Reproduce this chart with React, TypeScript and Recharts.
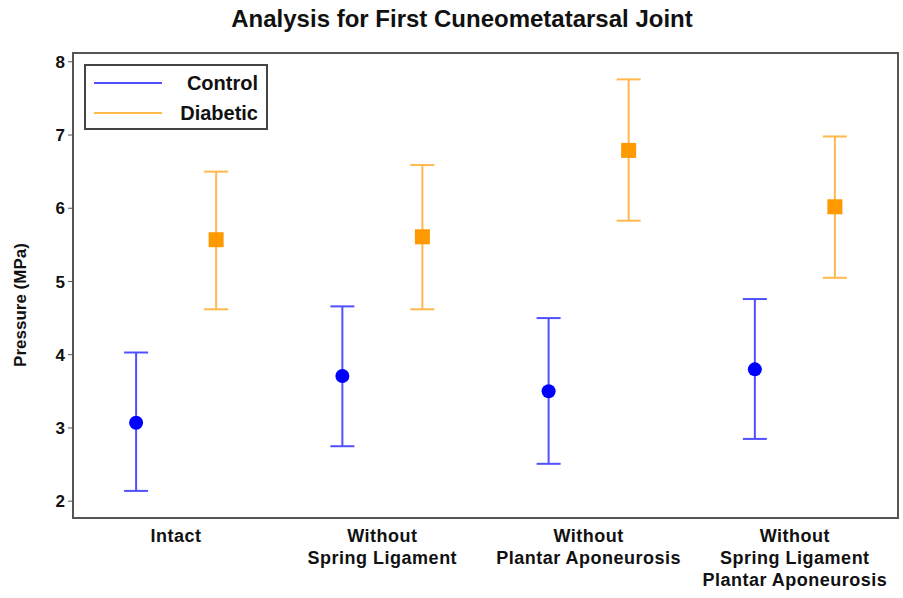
import React from "react"
import { ComposedChart, Scatter, XAxis, YAxis, ErrorBar, ReferenceArea, Legend } from "recharts"

const categories = [
  ["Intact"],
  ["Without", "Spring Ligament"],
  ["Without", "Plantar Aponeurosis"],
  ["Without", "Spring Ligament", "Plantar Aponeurosis"],
]
const controlMean = [3.07, 3.71, 3.5, 3.8]
const controlLow = [2.14, 2.75, 2.51, 2.85]
const controlHigh = [4.03, 4.66, 4.5, 4.76]
const diabeticMean = [5.57, 5.61, 6.79, 6.02]
const diabeticLow = [4.62, 4.62, 5.83, 5.05]
const diabeticHigh = [6.5, 6.59, 7.76, 6.98]
const yTicks = [2, 3, 4, 5, 6, 7, 8]

const FONT = "'Liberation Sans', Arial, sans-serif"
const BLUE = "#0000ff"
const BLUE_BAR = "#5050ff"
const ORANGE = "#ff9900"
const ORANGE_BAR = "#ffb84d"
const SHIFT = 0.194

const build = (mean: number[], low: number[], high: number[], shift: number) =>
  mean.map((m, i) => ({ x: i + shift, y: m, err: [m - low[i], high[i] - m] }))

const controlData = build(controlMean, controlLow, controlHigh, -SHIFT)
const diabeticData = build(diabeticMean, diabeticLow, diabeticHigh, SHIFT)

function CategoryTick({ x, y, payload }: any) {
  const lines = categories[payload.value] || []
  return (
    <text x={x} y={y} textAnchor="middle" fontFamily={FONT} fontWeight="bold" fontSize={18} letterSpacing={0.5} fill="#111">
      {lines.map((l, i) => (
        <tspan key={i} x={x} dy={i === 0 ? 16 : 22}>
          {l}
        </tspan>
      ))}
    </text>
  )
}

function LegendBox() {
  const items = [
    { name: "Control", color: BLUE_BAR },
    { name: "Diabetic", color: ORANGE_BAR },
  ]
  return (
    <div style={{ border: "2px solid #444", width: 184, height: 66, background: "#fff", boxSizing: "border-box", paddingTop: 4 }}>
      {items.map((it) => (
        <div key={it.name} style={{ display: "flex", alignItems: "center", height: 26, marginBottom: 4 }}>
          <div style={{ width: 68, height: 2, background: it.color, marginLeft: 8 }} />
          <div style={{ flex: 1, textAlign: "right", paddingRight: 8, fontFamily: FONT, fontWeight: "bold", fontSize: 20, color: "#111" }}>
            {it.name}
          </div>
        </div>
      ))}
    </div>
  )
}

export default function App() {
  return (
    <div style={{ position: "absolute", left: 0, top: 0, width: 903, height: 598, background: "#fff" }}>
      <div
        style={{
          position: "absolute",
          top: 5,
          left: 0,
          width: 924,
          textAlign: "center",
          fontFamily: FONT,
          fontWeight: "bold",
          fontSize: 24,
          color: "#111",
        }}
      >
        Analysis for First Cuneometatarsal Joint
      </div>
      <ComposedChart width={903} height={598} margin={{ top: 53, right: 5, bottom: 0, left: 0 }}>
        <XAxis
          type="number"
          dataKey="x"
          domain={[-0.5, 3.5]}
          ticks={[0, 1, 2, 3]}
          allowDataOverflow
          height={80}
          tickLine={false}
          axisLine={{ stroke: "#555", strokeWidth: 2 }}
          tick={<CategoryTick />}
        />
        <YAxis
          type="number"
          dataKey="y"
          domain={[1.77, 8.12]}
          ticks={yTicks}
          allowDataOverflow
          width={73}
          tickSize={5}
          tickMargin={3}
          tickLine={{ stroke: "#555" }}
          axisLine={{ stroke: "#555", strokeWidth: 2 }}
          tick={{ fontFamily: FONT, fontWeight: "bold", fontSize: 17, fill: "#111" }}
          label={() => (
            <text
              x={26}
              y={305}
              transform="rotate(-90 26 305)"
              textAnchor="middle"
              fontFamily={FONT}
              fontWeight="bold"
              fontSize={17}
              fill="#111"
            >
              Pressure (MPa)
            </text>
          )}
        />
        <ReferenceArea x1={-0.5} x2={3.5} y1={1.77} y2={8.12} fill="none" stroke="#555" strokeWidth={2} ifOverflow="visible" />
        <Legend
          layout="vertical"
          align="center"
          verticalAlign="middle"
          wrapperStyle={{ left: 84, top: 64, width: 184 }}
          content={() => <LegendBox />}
        />
        <Scatter
          name="Control"
          data={controlData}
          dataKey="y"
          isAnimationActive={false}
          shape={(p: any) => <circle cx={p.cx} cy={p.cy} r={7} fill={BLUE} />}
        >
          <ErrorBar dataKey="err" direction="y" width={12} stroke={BLUE_BAR} strokeWidth={2} isAnimationActive={false} />
        </Scatter>
        <Scatter
          name="Diabetic"
          data={diabeticData}
          dataKey="y"
          isAnimationActive={false}
          shape={(p: any) => <rect x={p.cx - 7.5} y={p.cy - 7.5} width={15} height={15} fill={ORANGE} />}
        >
          <ErrorBar dataKey="err" direction="y" width={12} stroke={ORANGE_BAR} strokeWidth={2} isAnimationActive={false} />
        </Scatter>
      </ComposedChart>
    </div>
  )
}
